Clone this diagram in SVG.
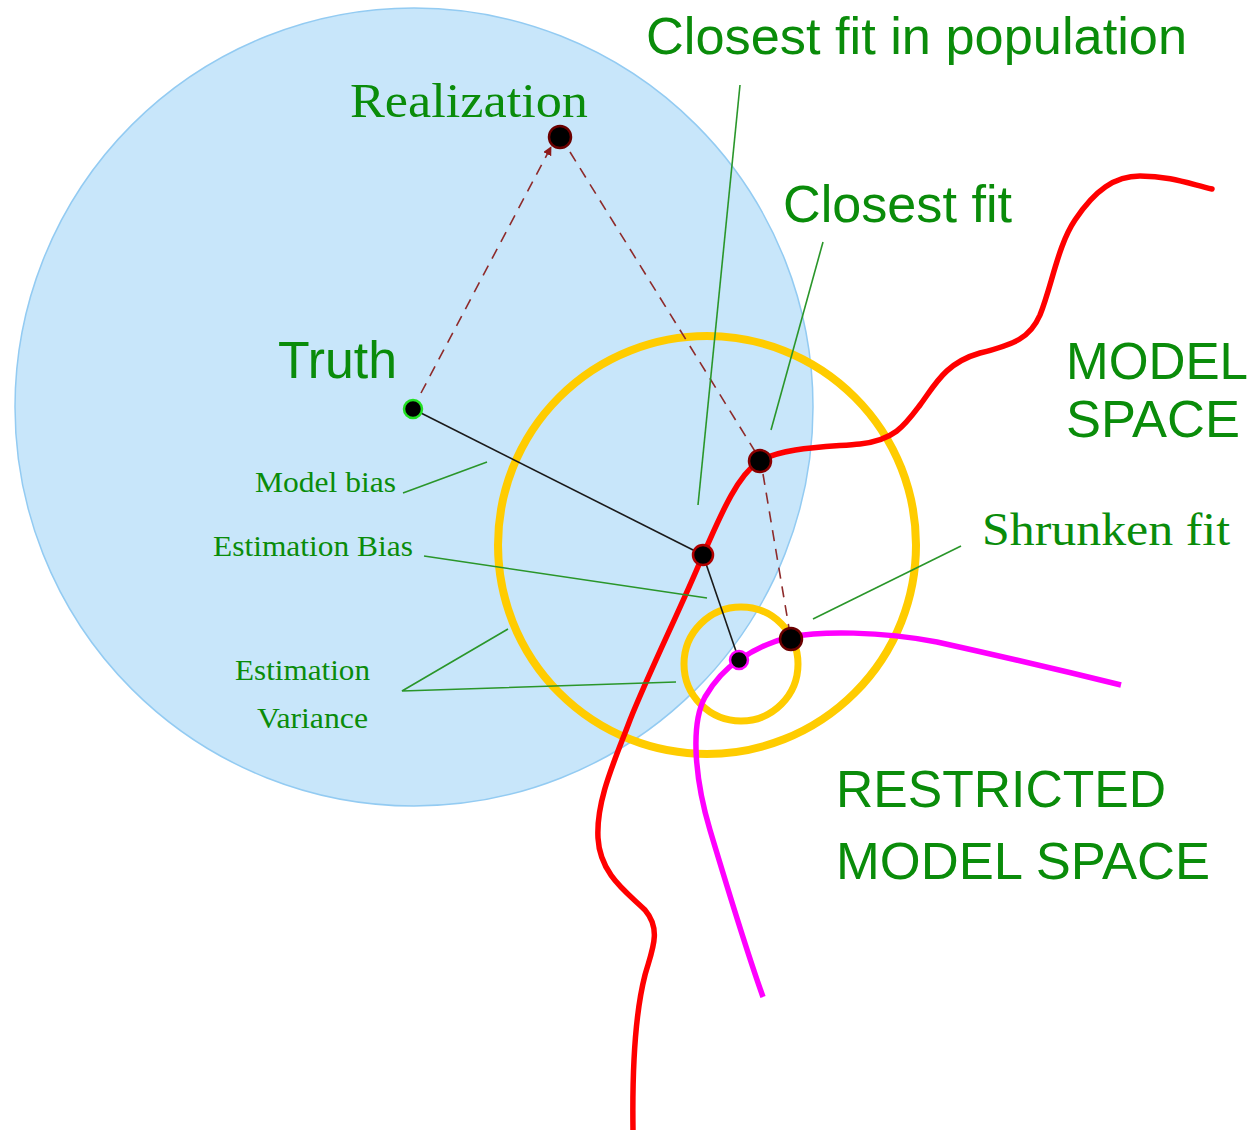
<svg xmlns="http://www.w3.org/2000/svg" width="1256" height="1130" viewBox="0 0 1256 1130">
<style>
.sans{font-family:"Liberation Sans",Arial,sans-serif;fill:#0a8c0a;}
.serif{font-family:"Liberation Serif","Times New Roman",serif;fill:#0a8c0a;}
.big{font-size:52px;}
.small{font-size:29px;}
.leader{stroke:#2a962a;stroke-width:1.6;fill:none;}
.dash{stroke:#8e2b2b;stroke-width:1.6;stroke-dasharray:11 8;fill:none;}
.solid{stroke:#1a1a1a;stroke-width:1.6;fill:none;}
.dot{fill:#000;stroke-width:2.5;}
</style>
<defs>
<marker id="arr" viewBox="0 0 10 10" refX="9" refY="5" markerWidth="9" markerHeight="9" markerUnits="userSpaceOnUse" orient="auto">
<path d="M0,0 L10,5 L0,10 z" fill="#8e1a1a"/>
</marker>
</defs>
<rect width="1256" height="1130" fill="#ffffff"/>
<g id="truth-region">
<circle cx="414" cy="407" r="399" fill="#c8e6fa" stroke="#93cbf2" stroke-width="1.5"/>
</g>
<g id="variance-circles">
<circle cx="707" cy="545" r="209" fill="none" stroke="#ffcc00" stroke-width="8"/>
<circle cx="741" cy="664" r="57" fill="none" stroke="#ffcc00" stroke-width="7"/>
</g>
<g id="model-space">
<path d="M633,1130 C632,1060 636,1010 645,975 C652,950 662,930 645,910 C628,893 600,875 598,838 C596,800 615,760 630,720 C650,670 680,610 703,555 C718,522 735,478 758,462 C782,447 830,447 860,444 C895,440 905,425 920,405 C935,385 945,363 980,353 C1015,344 1030,338 1040,315 C1052,285 1058,245 1075,220 C1095,190 1115,176 1140,176 C1170,176 1190,184 1212,189" fill="none" stroke="#ff0000" stroke-width="5.5" stroke-linecap="round"/>
<text class="sans big" x="1066" y="379" textLength="182" lengthAdjust="spacingAndGlyphs">MODEL</text>
<text class="sans big" x="1066" y="437" textLength="174" lengthAdjust="spacingAndGlyphs">SPACE</text>
</g>
<g id="restricted-model-space">
<path d="M763,997 C748,955 725,880 710,830 C695,780 690,725 705,697 C715,680 728,667 739,660 C755,649 772,641 791,637 C820,631 880,631 937,642 C1000,656 1060,670 1121,685" fill="none" stroke="#ff00ff" stroke-width="5.5"/>
<text class="sans big" x="836" y="807" textLength="330" lengthAdjust="spacingAndGlyphs">RESTRICTED</text>
<text class="sans big" x="836" y="879" textLength="374" lengthAdjust="spacingAndGlyphs">MODEL SPACE</text>
</g>
<g id="connectors">
<path class="dash" d="M421,393 L551,147" marker-end="url(#arr)"/>
<path class="dash" d="M570,152 L756,453"/>
<path class="dash" d="M763,474 L789,628"/>
<path class="solid" d="M413,409 L703,555"/>
<path class="solid" d="M703,555 L739,660"/>
<path class="leader" d="M740,85 L698,505"/>
<path class="leader" d="M823,242 L771,430"/>
<path class="leader" d="M961,546 L813,619"/>
<path class="leader" d="M403,493 L487,462"/>
<path class="leader" d="M424,556 L707,598"/>
<path class="leader" d="M508,629 L402,691 L676,682"/>
</g>
<g id="realization">
<circle class="dot" cx="560" cy="137" r="11" stroke="#6a0000"/>
<text class="serif" x="350" y="117" font-size="48" textLength="238" lengthAdjust="spacingAndGlyphs">Realization</text>
</g>
<g id="truth">
<circle class="dot" cx="413" cy="409" r="9" stroke="#22e022"/>
<text class="sans" x="278" y="378" font-size="51" textLength="119" lengthAdjust="spacingAndGlyphs">Truth</text>
</g>
<g id="closest-fit">
<circle class="dot" cx="760" cy="461" r="11" stroke="#8a0000"/>
<text class="sans big" x="783" y="222" textLength="229" lengthAdjust="spacingAndGlyphs">Closest fit</text>
</g>
<g id="closest-fit-population">
<circle class="dot" cx="703" cy="555" r="10" stroke="#b00000"/>
<text class="sans big" x="646" y="54" textLength="541" lengthAdjust="spacingAndGlyphs">Closest fit in population</text>
</g>
<g id="shrunken-fit">
<circle class="dot" cx="791" cy="639" r="11" stroke="#6a0000"/>
<text class="serif" x="982" y="545" font-size="46" textLength="248" lengthAdjust="spacingAndGlyphs">Shrunken fit</text>
</g>
<g id="estimate">
<circle class="dot" cx="739" cy="660" r="9" stroke="#ff00ff"/>
</g>
<g id="labels">
<text class="serif small" x="255" y="492" textLength="141" lengthAdjust="spacingAndGlyphs">Model bias</text>
<text class="serif small" x="213" y="556" textLength="200" lengthAdjust="spacingAndGlyphs">Estimation Bias</text>
<text class="serif small" x="235" y="680" textLength="135" lengthAdjust="spacingAndGlyphs">Estimation</text>
<text class="serif small" x="257" y="728" textLength="111" lengthAdjust="spacingAndGlyphs">Variance</text>
</g>
</svg>
